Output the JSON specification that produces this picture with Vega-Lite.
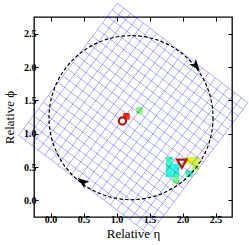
{
  "$schema": "https://vega.github.io/schema/vega-lite/v6.json",
  "width": 198,
  "height": 200,
  "autosize": {"type": "none"},
  "padding": {"left": 34, "top": 17, "right": 17, "bottom": 28},
  "background": "white",
  "config": {
    "view": {"stroke": "black", "strokeWidth": 1.3},
    "axis": {
      "domain": false,
      "grid": false,
      "ticks": true,
      "tickSize": -4,
      "tickColor": "black",
      "tickWidth": 1,
      "labelFont": "Liberation Serif",
      "labelFontSize": 10,
      "labelFontWeight": "bold",
      "labelColor": "black",
      "titleFont": "Liberation Serif",
      "titleFontSize": 13,
      "titleFontWeight": "normal",
      "titleColor": "black"
    },
    "axisTop": {"labels": false, "titleOpacity": 0},
    "axisRight": {"labels": false, "titleOpacity": 0}
  },
  "resolve": {"axis": {"x": "independent", "y": "independent"}},
  "datasets": {
    "cells": [
      {"eta": 1.35, "phi": 1.35, "val": 0.52},
      {"eta": 1.15, "phi": 1.26, "val": 0.86},
      {"eta": 1.8, "phi": 0.6, "val": 0.42},
      {"eta": 1.8, "phi": 0.5, "val": 0.40},
      {"eta": 1.8, "phi": 0.4, "val": 0.39},
      {"eta": 1.9, "phi": 0.5, "val": 0.39},
      {"eta": 1.9, "phi": 0.4, "val": 0.41},
      {"eta": 1.9, "phi": 0.3, "val": 0.50},
      {"eta": 2.1, "phi": 0.6, "val": 0.65},
      {"eta": 2.2, "phi": 0.6, "val": 0.60},
      {"eta": 2.2, "phi": 0.5, "val": 0.58},
      {"eta": 2.1, "phi": 0.4, "val": 0.41}
    ],
    "grid": [
      {"e1": -0.4816, "p1": 0.9760, "e2": 1.0110, "p2": 2.9566},
      {"e1": -0.3826, "p1": 0.9014, "e2": 1.1100, "p2": 2.8820},
      {"e1": -0.2835, "p1": 0.8267, "e2": 1.2091, "p2": 2.8073},
      {"e1": -0.1845, "p1": 0.7521, "e2": 1.3081, "p2": 2.7327},
      {"e1": -0.0855, "p1": 0.6775, "e2": 1.4071, "p2": 2.6581},
      {"e1": 0.0136, "p1": 0.6029, "e2": 1.5062, "p2": 2.5835},
      {"e1": 0.1126, "p1": 0.5282, "e2": 1.6052, "p2": 2.5088},
      {"e1": 0.2116, "p1": 0.4536, "e2": 1.7042, "p2": 2.4342},
      {"e1": 0.3106, "p1": 0.3790, "e2": 1.8032, "p2": 2.3596},
      {"e1": 0.4097, "p1": 0.3044, "e2": 1.9023, "p2": 2.2850},
      {"e1": 0.5087, "p1": 0.2297, "e2": 2.0013, "p2": 2.2103},
      {"e1": 0.6077, "p1": 0.1551, "e2": 2.1003, "p2": 2.1357},
      {"e1": 0.7068, "p1": 0.0805, "e2": 2.1994, "p2": 2.0611},
      {"e1": 0.8058, "p1": 0.0059, "e2": 2.2984, "p2": 1.9865},
      {"e1": 0.9048, "p1": -0.0688, "e2": 2.3974, "p2": 1.9118},
      {"e1": 1.0039, "p1": -0.1434, "e2": 2.4965, "p2": 1.8372},
      {"e1": 1.1029, "p1": -0.2180, "e2": 2.5955, "p2": 1.7626},
      {"e1": 1.2019, "p1": -0.2926, "e2": 2.6945, "p2": 1.6880},
      {"e1": 1.3010, "p1": -0.3673, "e2": 2.7936, "p2": 1.6133},
      {"e1": 1.4000, "p1": -0.4419, "e2": 2.8926, "p2": 1.5387},
      {"e1": 1.4990, "p1": -0.5165, "e2": 2.9916, "p2": 1.4641},
      {"e1": -0.4816, "p1": 0.9760, "e2": 1.4991, "p2": -0.5166},
      {"e1": -0.4070, "p1": 1.0750, "e2": 1.5737, "p2": -0.4176},
      {"e1": -0.3323, "p1": 1.1741, "e2": 1.6484, "p2": -0.3185},
      {"e1": -0.2577, "p1": 1.2731, "e2": 1.7230, "p2": -0.2195},
      {"e1": -0.1831, "p1": 1.3721, "e2": 1.7976, "p2": -0.1205},
      {"e1": -0.1085, "p1": 1.4712, "e2": 1.8722, "p2": -0.0214},
      {"e1": -0.0338, "p1": 1.5702, "e2": 1.9469, "p2": 0.0776},
      {"e1": 0.0408, "p1": 1.6692, "e2": 2.0215, "p2": 0.1766},
      {"e1": 0.1154, "p1": 1.7682, "e2": 2.0961, "p2": 0.2756},
      {"e1": 0.1900, "p1": 1.8673, "e2": 2.1707, "p2": 0.3747},
      {"e1": 0.2647, "p1": 1.9663, "e2": 2.2454, "p2": 0.4737},
      {"e1": 0.3393, "p1": 2.0653, "e2": 2.3200, "p2": 0.5727},
      {"e1": 0.4139, "p1": 2.1644, "e2": 2.3946, "p2": 0.6718},
      {"e1": 0.4885, "p1": 2.2634, "e2": 2.4692, "p2": 0.7708},
      {"e1": 0.5632, "p1": 2.3624, "e2": 2.5439, "p2": 0.8698},
      {"e1": 0.6378, "p1": 2.4615, "e2": 2.6185, "p2": 0.9689},
      {"e1": 0.7124, "p1": 2.5605, "e2": 2.6931, "p2": 1.0679},
      {"e1": 0.7870, "p1": 2.6595, "e2": 2.7677, "p2": 1.1669},
      {"e1": 0.8617, "p1": 2.7586, "e2": 2.8424, "p2": 1.2660},
      {"e1": 0.9363, "p1": 2.8576, "e2": 2.9170, "p2": 1.3650},
      {"e1": 1.0109, "p1": 2.9566, "e2": 2.9916, "p2": 1.4640}
    ]
  },
  "layer": [
    {
      "data": {"name": "cells"},
      "mark": {"type": "point", "shape": "square", "filled": true, "size": 44, "opacity": 1},
      "encoding": {
        "x": {"field": "eta", "type": "quantitative",
              "scale": {"domain": [-0.25, 2.75], "nice": false, "zero": false},
              "axis": {"orient": "bottom", "title": "Relative η", "values": [0, 0.5, 1, 1.5, 2, 2.5], "format": ".1f", "labelPadding": 1, "titlePadding": 3}},
        "y": {"field": "phi", "type": "quantitative",
              "scale": {"domain": [-0.25, 2.75], "nice": false, "zero": false},
              "axis": {"orient": "left", "title": "Relative ϕ", "values": [0, 0.5, 1, 1.5, 2, 2.5], "format": ".1f", "labelPadding": 2, "titlePadding": 7}},
        "color": {"field": "val", "type": "quantitative",
                  "scale": {"domain": [0.34, 0.375, 0.64, 0.66, 0.89], "range": ["#00dbff", "#14ffe2", "#eeff08", "#ffec00", "#ff1300"], "interpolate": "rgb"},
                  "legend": null}
      }
    },
    {
      "data": {"name": "grid"},
      "mark": {"type": "rule", "color": "#0000ff", "opacity": 0.33, "strokeWidth": 1},
      "encoding": {
        "x": {"field": "e1", "type": "quantitative",
              "axis": {"orient": "top", "labels": false, "title": "", "values": [0, 0.5, 1, 1.5, 2, 2.5]}},
        "y": {"field": "p1", "type": "quantitative",
              "axis": {"orient": "right", "labels": false, "title": "", "values": [0, 0.5, 1, 1.5, 2, 2.5]}},
        "x2": {"field": "e2"},
        "y2": {"field": "p2"}
      }
    },
    {
      "data": {"values": [{"eta": 1.22, "phi": 1.24}]},
      "mark": {"type": "point", "shape": "circle", "filled": false, "size": 26896, "stroke": "black", "strokeWidth": 1.2, "strokeDash": [3.5, 2.2], "opacity": 1},
      "encoding": {
        "x": {"field": "eta", "type": "quantitative", "axis": null},
        "y": {"field": "phi", "type": "quantitative", "axis": null}
      }
    },
    {
      "data": {"values": [{"eta": 2.2, "phi": 2.02}]},
      "mark": {"type": "point", "shape": "M1,0 L-0.8,-0.65 L-0.35,0 L-0.8,0.65 Z", "filled": true, "color": "black", "size": 170, "angle": 51.5, "opacity": 1},
      "encoding": {
        "x": {"field": "eta", "type": "quantitative", "axis": null},
        "y": {"field": "phi", "type": "quantitative", "axis": null}
      }
    },
    {
      "data": {"values": [{"eta": 0.49, "phi": 0.275}]},
      "mark": {"type": "point", "shape": "M1,0 L-0.8,-0.65 L-0.35,0 L-0.8,0.65 Z", "filled": true, "color": "black", "size": 170, "angle": 217, "opacity": 1},
      "encoding": {
        "x": {"field": "eta", "type": "quantitative", "axis": null},
        "y": {"field": "phi", "type": "quantitative", "axis": null}
      }
    },
    {
      "data": {"values": [{"eta": 1.09, "phi": 1.19}]},
      "mark": {"type": "point", "shape": "circle", "fill": "white", "fillOpacity": 1, "stroke": "#b2180e", "strokeWidth": 2.2, "size": 52, "opacity": 1},
      "encoding": {
        "x": {"field": "eta", "type": "quantitative", "axis": null},
        "y": {"field": "phi", "type": "quantitative", "axis": null}
      }
    },
    {
      "data": {"values": [{"eta": 1.99, "phi": 0.55}]},
      "mark": {"type": "point", "shape": "triangle-down", "filled": false, "stroke": "#b2180e", "strokeWidth": 2.2, "size": 90, "opacity": 1},
      "encoding": {
        "x": {"field": "eta", "type": "quantitative", "axis": null},
        "y": {"field": "phi", "type": "quantitative", "axis": null}
      }
    }
  ]
}
